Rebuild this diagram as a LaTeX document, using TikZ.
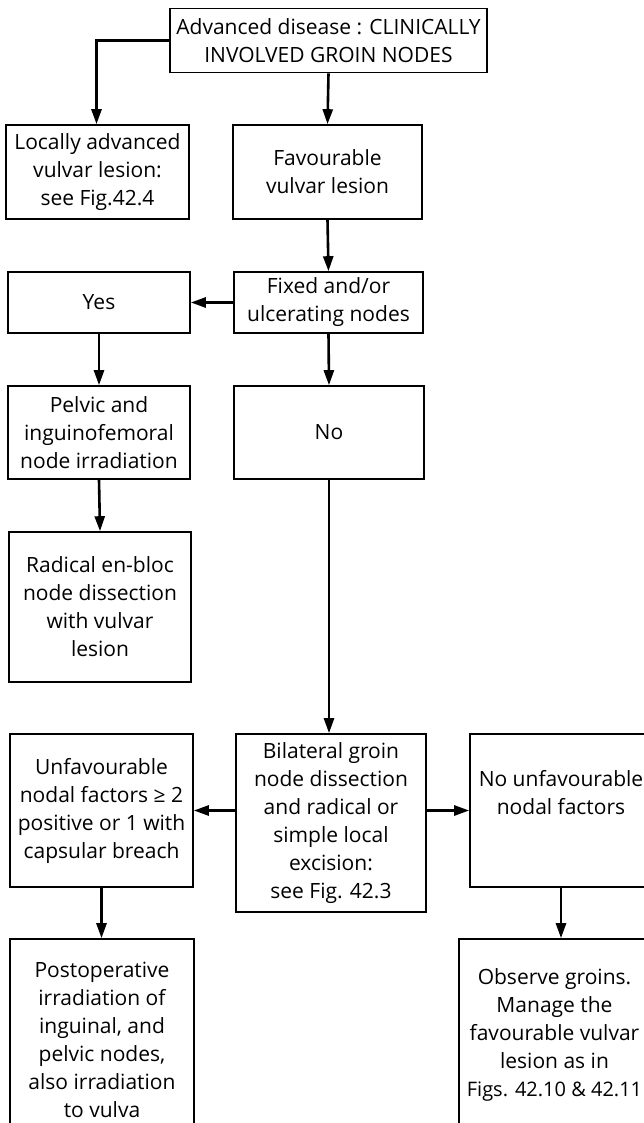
\documentclass[tikz,border=0pt]{standalone}
\usepackage{fontspec}
\setmainfont{Open Sans}
\usepackage{tikz}
\usetikzlibrary{positioning, arrows.meta}

\begin{document}
\begin{tikzpicture}[x=1pt, y=-1pt,
    box/.style={draw, line width=1.6pt, align=center, inner sep=2pt,
                font=\fontsize{21}{28}\selectfont},
    flow/.style={-{Triangle[length=15pt, width=10pt]}, line width=2.6pt}]
    \useasboundingbox (0,0) rectangle (644,1123);
    \fill[white] (0,0) rectangle (644,1123);

    % top row
    \node[box, minimum width=317pt, minimum height=64pt] (advanced) at (328.5, 40.5) {Advanced disease : CLINICALLY\\INVOLVED GROIN NODES};
    \node[box, minimum width=183pt, minimum height=94pt] (locally) at (97.5, 172) {Locally advanced\\vulvar lesion:\\see Fig.42.4};
    \node[box, minimum width=189pt, minimum height=94pt] (favourable) at (327.5, 172) {Favourable\\vulvar lesion};

    % fixed / ulcerating nodes
    \node[box, minimum width=182pt, minimum height=61pt] (yes) at (99, 302.5) {Yes};
    \node[box, minimum width=189pt, minimum height=61pt] (fixed) at (328.5, 302.5) {Fixed and/or\\ulcerating nodes};
    \node[box, minimum width=182pt, minimum height=93pt] (pelvic) at (99, 432.5) {Pelvic and\\inguinofemoral\\node irradiation};
    \node[box, minimum width=190pt, minimum height=93pt] (no) at (329, 432.5) {No};
    \node[box, minimum width=182pt, minimum height=150pt] (radical) at (100, 607) {Radical en-bloc\\node dissection\\with vulvar\\lesion};

    % groin dissection and after
    \node[box, minimum width=190pt, minimum height=178pt] (bilateral) at (331, 823) {Bilateral groin\\node dissection\\and radical or\\simple local\\excision:\\see Fig. 42.3};
    \node[box, minimum width=183pt, minimum height=153pt] (unfav) at (101.5, 810.5) {Unfavourable\\nodal factors ≥ 2\\positive or 1 with\\capsular breach};
    \node[box, minimum width=182pt, minimum height=153pt] (nounfav) at (561, 810.5) {No unfavourable\\nodal factors\\[8pt]};
    \node[box, minimum width=184pt, minimum height=202pt] (postop) at (102, 1040) {Postoperative\\irradiation of\\inguinal, and\\pelvic nodes,\\also irradiation\\to vulva};
    \node[box, minimum width=191pt, minimum height=192pt] (observe) at (554.5, 1035) {Observe groins.\\Manage the\\favourable vulvar\\lesion as in\\{\fontsize{20}{28}\selectfont Figs. 42.10 \& 42.11}};

    % connectors
    \coordinate (bend) at (96.5, 40.5);
    \draw[flow] (advanced.west) -- (bend) -- (locally.north -| bend);
    \draw[flow] (advanced.south) -- (favourable.north);
    \draw[flow] (favourable.south) -- (fixed.north);
    \draw[flow] (fixed.west) -- (yes.east);
    \draw[flow] (fixed.south) -- (no.north);
    \draw[flow] (yes.south) -- (pelvic.north);
    \draw[flow] (pelvic.south) -- (radical.north);
    \draw[flow] (no.south) -- (no.south |- bilateral.north);
    \draw[flow] (bilateral.west |- unfav.east) -- (unfav.east);
    \draw[flow] (bilateral.east |- nounfav.west) -- (nounfav.west);
    \draw[flow] (unfav.south) -- (postop.north -| unfav.south);
    \draw[flow] (nounfav.south) -- (observe.north -| nounfav.south);
\end{tikzpicture}
\end{document}
